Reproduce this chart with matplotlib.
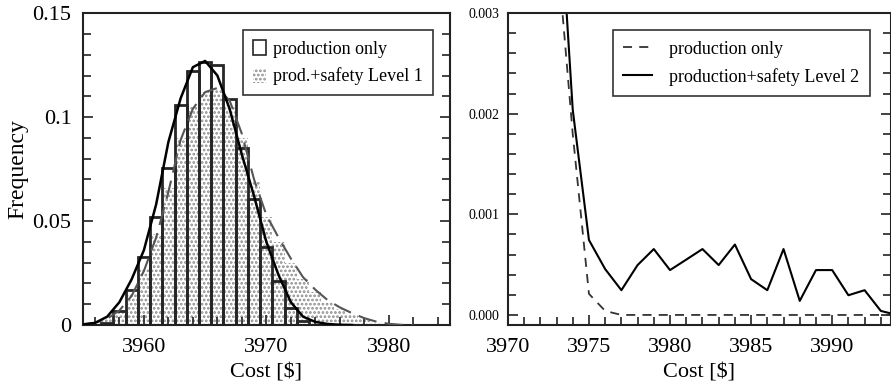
import numpy as np
import matplotlib.pyplot as plt
from matplotlib.ticker import MultipleLocator
from matplotlib.patches import Patch
from matplotlib.lines import Line2D

plt.rcParams['font.family'] = ['Liberation Serif', 'DejaVu Serif']
plt.rcParams['hatch.linewidth'] = 1.3

# Left panel: histograms (bin centres) and fitted curves
bin_x = [3956, 3957, 3958, 3959, 3960, 3961, 3962, 3963, 3964, 3965, 3966, 3967,
         3968, 3969, 3970, 3971, 3972, 3973]
prod_only = [0.0, 0.001, 0.0068, 0.0167, 0.0325, 0.052, 0.0755, 0.106, 0.122, 0.1267,
             0.125, 0.1085, 0.085, 0.0607, 0.0377, 0.021, 0.008, 0.002]

lvl1_x = [3956, 3957, 3958, 3959, 3960, 3961, 3962, 3963, 3964, 3965, 3966, 3967,
          3968, 3969, 3970, 3971, 3972, 3973, 3974, 3975, 3976, 3977, 3978, 3979, 3980]
lvl1 = [0.001, 0.003, 0.007, 0.015, 0.027, 0.044, 0.066, 0.09, 0.105, 0.112, 0.113,
        0.106, 0.09, 0.069, 0.052, 0.04, 0.03, 0.022, 0.016, 0.011, 0.0075, 0.005,
        0.003, 0.0015, 0.0005]

fit_prod_x = [3955, 3956, 3957, 3958, 3959, 3960, 3961, 3962, 3963, 3964, 3965, 3966,
              3967, 3968, 3969, 3970, 3971, 3972, 3973, 3974, 3975, 3976, 3977]
fit_prod = [0.0003, 0.001, 0.004, 0.011, 0.022, 0.036, 0.058, 0.088, 0.109, 0.124,
            0.127, 0.120, 0.104, 0.082, 0.062, 0.040, 0.024, 0.011, 0.004, 0.0015,
            0.0005, 0.0001, 0.0]

fit_lvl1_x = [3955, 3956, 3957, 3958, 3959, 3960, 3961, 3962, 3963, 3964, 3965, 3966,
              3967, 3968, 3969, 3970, 3971, 3972, 3973, 3974, 3975, 3976, 3977, 3978,
              3979, 3980, 3981, 3982]
fit_lvl1 = [0.0003, 0.001, 0.003, 0.007, 0.014, 0.026, 0.042, 0.064, 0.089, 0.104,
            0.112, 0.114, 0.108, 0.092, 0.070, 0.053, 0.042, 0.032, 0.023, 0.017,
            0.012, 0.0085, 0.0057, 0.0033, 0.0016, 0.0006, 0.0001, 0.0]

# Right panel: tail of the distributions
tail_x = [3973, 3974, 3975, 3976, 3977, 3978, 3979, 3980, 3981, 3982, 3983, 3984,
          3985, 3986, 3987, 3988, 3989, 3990, 3991, 3992, 3993, 3994]
tail_prod = [0.0037, 0.0018, 0.00021, 0.00004, 0.0, 0.0, 0.0, 0.0, 0.0, 0.0, 0.0, 0.0,
             0.0, 0.0, 0.0, 0.0, 0.0, 0.0, 0.0, 0.0, 0.0, 0.0]
tail_lvl2 = [0.0046, 0.00204, 0.000745, 0.000456, 0.000246, 0.000496, 0.000655,
             0.000446, 0.00055, 0.000655, 0.000496, 0.0007, 0.000356, 0.000246,
             0.000655, 0.00014, 0.000446, 0.000446, 0.000196, 0.000246, 0.00004, 0.0]

left_yticks = [0, 0.05, 0.1, 0.15]
left_ylabels = ['0', '0.05', '0.1', '0.15']
right_yticks = [0.0, 0.001, 0.002, 0.003]
right_ylabels = ['0.000', '0.001', '0.002', '0.003']

fig = plt.figure(figsize=(8.91, 3.86), dpi=100)
ax1 = fig.add_axes([0.0928, 0.158, 0.4122, 0.808])
ax2 = fig.add_axes([0.570, 0.158, 0.4295, 0.808])

# Left panel
ax1.bar(lvl1_x, lvl1, width=1.0, facecolor='white', edgecolor='#8c8c8c',
        hatch='....', linewidth=0, zorder=1)
ax1.bar(bin_x, prod_only, width=1.0, fill=False, edgecolor='#262626',
        linewidth=2.0, zorder=2)
ax1.plot(fit_lvl1_x, fit_lvl1, color='#555555', lw=1.5, dashes=(9, 4), zorder=3)
ax1.plot(fit_prod_x, fit_prod, color='black', lw=1.8, zorder=4)

ax1.set_xlim(3955, 3985)
ax1.set_ylim(0, 0.15)
ax1.set_xticks([3960, 3970, 3980])
ax1.xaxis.set_minor_locator(MultipleLocator(2))
ax1.set_yticks(left_yticks, left_ylabels)
ax1.yaxis.set_minor_locator(MultipleLocator(0.01))
ax1.set_xlabel('Cost [$]', fontsize=16, labelpad=5)
ax1.set_ylabel('Frequency', fontsize=17, labelpad=3)
ax1.tick_params(axis='both', which='major', labelsize=16)
ax1.tick_params(axis='x', which='major', pad=9)
ax1.tick_params(axis='y', which='major', pad=8)

h1 = [Patch(facecolor='white', edgecolor='#262626', linewidth=1.2),
      Patch(facecolor='white', edgecolor='#8c8c8c', hatch='....', linewidth=0)]
leg1 = ax1.legend(h1, ['production only', 'prod.+safety Level 1'], loc='upper right',
                  bbox_to_anchor=(0.954, 0.946), fontsize=13, frameon=True,
                  fancybox=False, edgecolor='black', handlelength=0.7,
                  handleheight=0.9, handletextpad=0.4, labelspacing=0.55,
                  borderpad=0.55, borderaxespad=0)
leg1.get_frame().set_linewidth(1.2)

# Right panel
ax2.plot(tail_x, tail_prod, color='#333333', lw=1.3, dashes=(5, 4))
ax2.plot(tail_x, tail_lvl2, color='black', lw=1.5)
ax2.set_xlim(3970, 3993.6)
ax2.set_ylim(-0.0001, 0.003)
ax2.set_xticks([3970, 3975, 3980, 3985, 3990])
ax2.xaxis.set_minor_locator(MultipleLocator(1))
ax2.set_yticks(right_yticks, right_ylabels)
ax2.yaxis.set_minor_locator(MultipleLocator(0.0002))
ax2.set_xlabel('Cost [$]', fontsize=16, labelpad=5)
ax2.tick_params(axis='x', which='major', labelsize=16, pad=9)
ax2.tick_params(axis='y', which='major', labelsize=10, pad=6)

h2 = [Line2D([], [], color='#333333', lw=1.3, dashes=(5, 4)),
      Line2D([], [], color='black', lw=1.5)]
leg2 = ax2.legend(h2, ['production only', 'production+safety Level 2'], loc='upper right',
                  bbox_to_anchor=(0.945, 0.946), fontsize=13, frameon=True,
                  fancybox=False, edgecolor='black', handlelength=1.6,
                  handletextpad=0.9, labelspacing=0.55, borderpad=0.6,
                  borderaxespad=0)
leg2.get_frame().set_linewidth(1.2)

for ax in (ax1, ax2):
    for s in ax.spines.values():
        s.set_linewidth(1.5)
        s.set_color('#222222')
    ax.tick_params(which='both', direction='in', left=True, right=True,
                   bottom=True, top=False, width=1.2, color='#222222')
    ax.tick_params(which='major', length=7)
    ax.tick_params(which='minor', length=5.5)

fig.savefig('out.png', dpi=100)
